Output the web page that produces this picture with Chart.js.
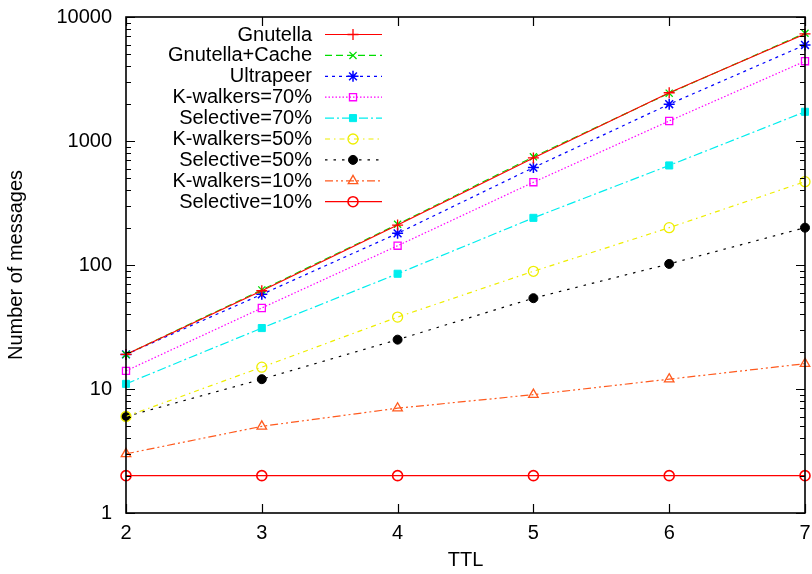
<!DOCTYPE html>
<html>
<head>
<meta charset="utf-8">
<script src="https://cdn.jsdelivr.net/npm/chart.js@4/dist/chart.umd.min.js"></script>
<style>
  html, body { margin: 0; padding: 0; background: #fff; }
  #wrap { width: 812px; height: 574px; }
</style>
</head>
<body>
<div id="wrap"><canvas id="c" width="812" height="574"></canvas></div>
<script>
// TTL values on the x axis
const ttl = [2, 3, 4, 5, 6, 7];
const yTickValues = [1, 10, 100, 1000, 10000];

// Number of messages per search scheme
const gnutella      = [19, 62, 210, 730, 2450, 7300];
const gnutellaCache = [19, 63, 213, 745, 2430, 7400];
const ultrapeer     = [19, 58, 180, 610, 1980, 5950];
const kwalkers70    = [14, 45, 143, 465, 1450, 4400];
const selective70   = [11, 31, 85, 240, 635, 1720];
const kwalkers50    = [6, 15, 38, 89, 200, 470];
const selective50   = [6, 12, 25, 54, 102, 200];
const kwalkers10    = [3, 5, 7, 9, 12, 16];
const selective10   = [2, 2, 2, 2, 2, 2];

const FONT = "'Liberation Sans', Arial, Helvetica, sans-serif";

function pts(vals) { return ttl.map((t, i) => ({ x: t, y: vals[i] })); }

function series(label, vals, color, dash, style, filled, radius, bw) {
  return {
    label: label,
    data: pts(vals),
    borderColor: color,
    backgroundColor: filled ? color : 'rgba(0,0,0,0)',
    borderWidth: 1.2,
    borderDash: dash,
    pointStyle: style,
    pointRadius: radius,
    pointHoverRadius: radius,
    pointBorderColor: color,
    pointBackgroundColor: filled ? color : 'rgba(0,0,0,0)',
    pointBorderWidth: bw,
    tension: 0,
    fill: false,
    clip: false
  };
}

const datasets = [
  series('Gnutella',        gnutella,      '#ff0000', [],                 'cross',    false, 5.5, 1.3),
  series('Gnutella+Cache',  gnutellaCache, '#00dd00', [7, 4],             'crossRot', false, 5,   1.3),
  series('Ultrapeer',       ultrapeer,     '#0000ff', [3, 4],             'star',     false, 5.5, 1.5),
  series('K-walkers=70%',   kwalkers70,    '#ff00ff', [1.5, 2],           'rect',     false, 5,   1.3),
  series('Selective=70%',   selective70,   '#00eeee', [9, 3, 2, 3],       'rect',     true,  5,   1),
  series('K-walkers=50%',   kwalkers50,    '#eeee00', [5, 4, 1.5, 4],     'circle',   false, 5,   1.3),
  series('Selective=50%',   selective50,   '#000000', [2.5, 6],           'circle',   true,  4.5, 1),
  series('K-walkers=10%',   kwalkers10,    '#ff5a1e', [8, 3, 2, 3, 2, 3], 'triangle', false, 5.5, 1.3),
  series('Selective=10%',   selective10,   '#ff0000', [],                 'circle',   false, 5,   1.6)
];

// Plot frame with inward major/minor ticks on all four sides
const framePlugin = {
  id: 'frame',
  afterDatasetsDraw(chart) {
    const ctx = chart.ctx;
    const a = chart.chartArea;
    const xs = chart.scales.x, ys = chart.scales.y;
    ctx.save();
    ctx.strokeStyle = '#000';
    ctx.lineWidth = 1.2;
    ctx.setLineDash([]);
    ctx.beginPath();
    ttl.forEach(t => {
      const px = Math.round(xs.getPixelForValue(t)) + 0.5;
      ctx.moveTo(px, a.bottom); ctx.lineTo(px, a.bottom - 9);
      ctx.moveTo(px, a.top);    ctx.lineTo(px, a.top + 9);
    });
    for (let d = 1; d <= 10000; d *= 10) {
      for (let m = 1; m <= 9; m++) {
        const v = d * m;
        if (v > 10000) break;
        const len = m === 1 ? 9 : 5;
        const py = Math.round(ys.getPixelForValue(v)) + 0.5;
        ctx.moveTo(a.left, py);  ctx.lineTo(a.left + len, py);
        ctx.moveTo(a.right, py); ctx.lineTo(a.right - len, py);
      }
    }
    ctx.stroke();
    ctx.lineWidth = 1.6;
    ctx.strokeRect(a.left, a.top, a.right - a.left, a.bottom - a.top);
    ctx.restore();
  }
};

// Legend inside the plot: right-aligned labels with line + marker samples
const keyPlugin = {
  id: 'key',
  afterDatasetsDraw(chart) {
    const ctx = chart.ctx;
    const textRight = 312, lineL = 325, lineR = 382, markX = 353;
    const top = 34, step = 20.9;
    ctx.save();
    chart.data.datasets.forEach((ds, i) => {
      const y = top + i * step;
      ctx.font = '20px ' + FONT;
      ctx.fillStyle = '#000';
      ctx.textAlign = 'right';
      ctx.textBaseline = 'middle';
      ctx.fillText(ds.label, textRight, y + 1);
      ctx.strokeStyle = ds.borderColor;
      ctx.lineWidth = ds.borderWidth;
      ctx.setLineDash(ds.borderDash || []);
      ctx.beginPath();
      ctx.moveTo(lineL, y + 0.5);
      ctx.lineTo(lineR, y + 0.5);
      ctx.stroke();
      ctx.setLineDash([]);
      ctx.strokeStyle = ds.pointBorderColor;
      ctx.fillStyle = ds.pointBackgroundColor;
      ctx.lineWidth = ds.pointBorderWidth;
      Chart.helpers.drawPoint(ctx, {
        pointStyle: ds.pointStyle,
        radius: ds.pointRadius,
        rotation: 0,
        borderWidth: ds.pointBorderWidth
      }, markX, y + 0.5);
    });
    ctx.restore();
  }
};

new Chart(document.getElementById('c'), {
  type: 'line',
  data: { datasets: datasets },
  options: {
    responsive: false,
    animation: false,
    devicePixelRatio: 1,
    layout: { padding: { left: 0, top: 17, right: 6, bottom: 0 } },
    plugins: {
      legend: { display: false },
      tooltip: { enabled: false }
    },
    scales: {
      x: {
        type: 'linear',
        min: 2,
        max: 7,
        afterBuildTicks(scale) { scale.ticks = ttl.map(v => ({ value: v })); },
        afterFit(scale) {
          scale.height = 61;
          scale.paddingLeft = 0;
          scale.paddingRight = 0;
        },
        grid: { display: false, drawTicks: false },
        border: { display: false },
        ticks: {
          color: '#000',
          font: { family: FONT, size: 20 },
          padding: 8,
          maxRotation: 0,
          callback: v => String(v)
        },
        title: {
          display: true,
          text: 'TTL',
          color: '#000',
          font: { family: FONT, size: 20 },
          padding: { top: 0, bottom: 2 }
        }
      },
      y: {
        type: 'logarithmic',
        min: 1,
        max: 10000,
        afterBuildTicks(scale) { scale.ticks = yTickValues.map(v => ({ value: v })); },
        afterFit(scale) {
          scale.width = 126;
          scale.paddingTop = 0;
          scale.paddingBottom = 0;
        },
        grid: { display: false, drawTicks: false },
        border: { display: false },
        ticks: {
          color: '#000',
          font: { family: FONT, size: 20 },
          padding: 14,
          callback: v => String(v)
        },
        title: {
          display: true,
          text: 'Number of messages',
          color: '#000',
          font: { family: FONT, size: 20 },
          padding: { top: 4, bottom: 0 }
        }
      }
    }
  },
  plugins: [framePlugin, keyPlugin]
});
</script>
</body>
</html>
